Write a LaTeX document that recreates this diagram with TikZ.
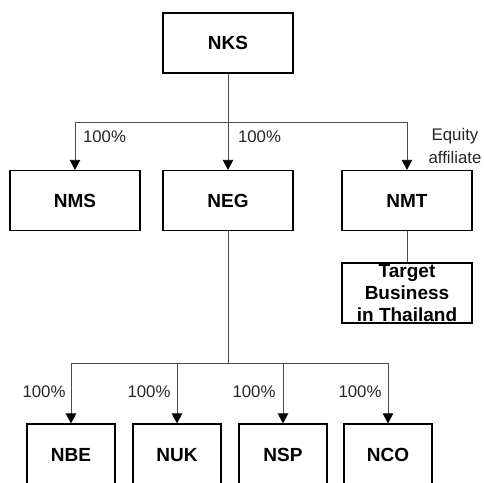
\documentclass[tikz,border=0pt]{standalone}
\usepackage{fontspec}
\setmainfont{Liberation Sans}
\usetikzlibrary{arrows.meta}
\begin{document}
\begin{tikzpicture}[x=1pt,y=-1pt,
  box/.style={draw=black, line width=1.3pt, minimum width=130pt, minimum height=60pt, inner sep=0pt,
    font=\fontsize{19}{22}\selectfont\bfseries},
  sbox/.style={box, minimum width=88pt, minimum height=80pt},
  bold/.style={font=\fontsize{19}{22}\selectfont\bfseries, inner sep=0pt, align=center},
  lbl/.style={font=\fontsize{16.8}{23}\selectfont, text=black!85, inner sep=0pt, align=center},
  conn/.style={draw=black!70, line width=0.8pt},
  arr/.style={conn, -{Triangle[width=10.5pt,length=10pt,fill=black,color=black]}}]
\useasboundingbox (0,0) rectangle (484,482);
\node[box] (nks) at (228,43) {NKS};
\node[box] (nms) at (75,200.5) {NMS};
\node[box] (neg) at (228,200.5) {NEG};
\node[box] (nmt) at (407,200.5) {NMT};
\node[box] (tgt) at (407,293) {};
\node[bold] (tgttxt) at (tgt.center) {Target\\Business\\in Thailand};
\node[sbox] (nbe) at (71,464) {};
\node[sbox] (nuk) at (177,464) {};
\node[sbox] (nsp) at (283,464) {};
\node[sbox] (nco) at (388,464) {};
\node[bold] (tnbe) at (71,455) {NBE};
\node[bold] (tnuk) at (177,455) {NUK};
\node[bold] (tnsp) at (283,455) {NSP};
\node[bold] (tnco) at (388,455) {NCO};
\coordinate (j1) at (228,122);
\coordinate (j2) at (228,363);
\draw[conn] (nks.south) -- (j1);
\draw[arr] (j1) -| (nms.north);
\draw[arr] (j1) -- (neg.north);
\draw[arr] (j1) -| (nmt.north);
\draw[conn] (nmt.south) -- (tgt.north);
\draw[conn] (neg.south) -- (j2);
\draw[arr] (j2) -| (nbe.north);
\draw[arr] (j2) -| (nuk.north);
\draw[arr] (j2) -| (nsp.north);
\draw[arr] (j2) -| (nco.north);
\node[lbl] (l1) at (104.5,137) {100\%};
\node[lbl] (l2) at (259.5,137) {100\%};
\node[lbl] (l3) at (455,146) {Equity\\affiliate};
\node[lbl] (l4) at (44,392) {100\%};
\node[lbl] (l5) at (149,392) {100\%};
\node[lbl] (l6) at (254,392) {100\%};
\node[lbl] (l7) at (360,392) {100\%};
\end{tikzpicture}
\end{document}
